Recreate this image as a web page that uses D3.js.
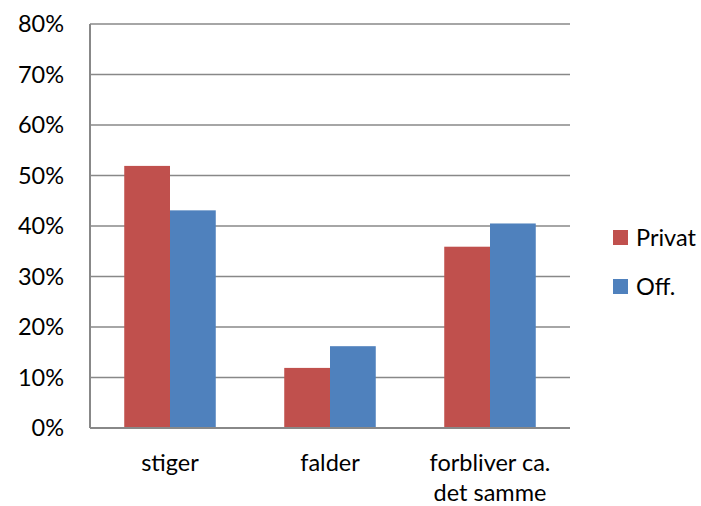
<!DOCTYPE html>
<html>
<head>
<meta charset="utf-8">
<script src="https://cdn.jsdelivr.net/npm/d3@7"></script>
<style>
  html, body { margin: 0; padding: 0; background: #fff; }
  svg text { font-family: Lato, "Open Sans", sans-serif; fill: #000; }
</style>
</head>
<body>
<svg id="chart" width="701" height="506"></svg>
<script>
// Survey answers by category, two sectors
const categories = [["stiger"], ["falder"], ["forbliver ca.", "det samme"]];
const seriesNames = ["Privat", "Off."];
const privat = [0.519, 0.119, 0.359];
const off = [0.431, 0.162, 0.405];
const yTicks = [0, 0.1, 0.2, 0.3, 0.4, 0.5, 0.6, 0.7, 0.8];
const colors = ["#C0504D", "#4F81BD"];

(function () {
  const svg = d3.select("#chart");
  const plotLeft = 90, plotRight = 570, plotTop = 24, plotBottom = 428;
  const fontSize = "23.5px";

  const x = d3.scaleBand()
    .domain(d3.range(categories.length))
    .range([plotLeft, plotRight])
    .paddingInner(0.428)
    .paddingOuter(0.214);
  const xs = d3.scaleBand().domain(seriesNames).range([0, x.bandwidth()]);
  const y = d3.scaleLinear().domain([0, 0.8]).range([plotBottom, plotTop]);

  // Horizontal gridlines
  svg.append("g")
    .selectAll("line")
    .data(yTicks.slice(1))
    .join("line")
    .attr("x1", plotLeft).attr("x2", plotRight)
    .attr("y1", d => y(d)).attr("y2", d => y(d))
    .attr("stroke", "#888").attr("stroke-width", 1.5);

  // Y axis labels
  const yAxis = svg.append("g")
    .attr("transform", `translate(${plotLeft},0)`)
    .call(d3.axisLeft(y).tickValues(yTicks).tickFormat(d3.format(".0%")).tickSize(0).tickPadding(26));
  yAxis.select(".domain").remove();
  yAxis.selectAll("text").style("font-size", fontSize).attr("font-family", null);

  // Bars
  const data = categories.map((c, i) => ({ i, values: [privat[i], off[i]] }));
  const groups = svg.append("g").selectAll("g")
    .data(data)
    .join("g")
    .attr("transform", d => `translate(${x(d.i)},0)`);
  groups.selectAll("rect")
    .data(d => d.values.map((v, k) => ({ v, k })))
    .join("rect")
    .attr("x", d => xs(seriesNames[d.k]))
    .attr("width", xs.bandwidth())
    .attr("y", d => y(d.v))
    .attr("height", d => y(0) - y(d.v))
    .attr("fill", d => colors[d.k]);

  // Axis lines
  svg.append("line")
    .attr("x1", plotLeft).attr("x2", plotLeft).attr("y1", plotTop).attr("y2", plotBottom)
    .attr("stroke", "#888").attr("stroke-width", 2);
  svg.append("line")
    .attr("x1", plotLeft).attr("x2", plotRight).attr("y1", plotBottom).attr("y2", plotBottom)
    .attr("stroke", "#888").attr("stroke-width", 2);

  // Category labels (multi-line)
  svg.append("g").selectAll("text")
    .data(categories)
    .join("text")
    .attr("text-anchor", "middle")
    .style("font-size", fontSize)
    .each(function (lines, i) {
      d3.select(this).selectAll("tspan")
        .data(lines)
        .join("tspan")
        .attr("x", x(i) + x.bandwidth() / 2)
        .attr("y", (d, j) => 471 + j * 30)
        .text(d => d);
    });

  // Legend
  const legend = svg.append("g").selectAll("g")
    .data(seriesNames)
    .join("g")
    .attr("transform", (d, k) => `translate(613,${230 + k * 49})`);
  legend.append("rect")
    .attr("width", 15).attr("height", 15)
    .attr("fill", (d, k) => colors[k]);
  legend.append("text")
    .attr("x", 23).attr("y", 7.5)
    .attr("dy", "0.36em")
    .style("font-size", fontSize)
    .text(d => d);
})();
</script>
</body>
</html>
